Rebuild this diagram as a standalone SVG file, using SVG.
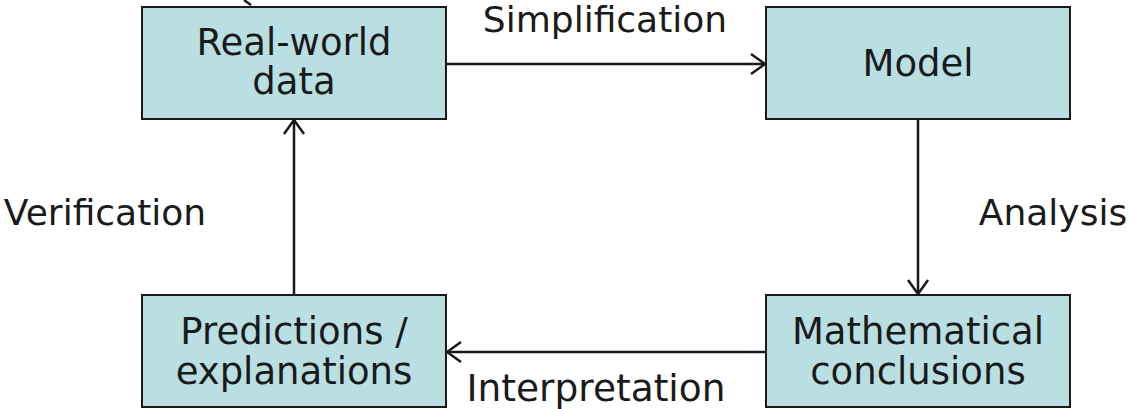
<svg xmlns="http://www.w3.org/2000/svg" width="1136" height="409" viewBox="0 0 1136 409">
<defs>
<style>
.box{fill:#b9dfe3;stroke:#1a1a1a;stroke-width:2}
.t{font-family:"DejaVu Sans",Verdana,sans-serif;font-size:36px;fill:#1a1a1a;text-anchor:middle}
.n{font-size:37px}
.c{stroke:#1a1a1a;stroke-width:2.5;fill:none}
</style>
<marker id="ah" viewBox="0 0 16 24" refX="15" refY="12" markerWidth="16" markerHeight="24" markerUnits="userSpaceOnUse" orient="auto">
<path d="M1,2 L15,12 L1,22" fill="none" stroke="#1a1a1a" stroke-width="2.5"/>
</marker>
</defs>
<rect width="1136" height="409" fill="#ffffff"/>
<g id="connectors">
<line class="c" x1="244" y1="0" x2="251" y2="5"/>
<line class="c" x1="446" y1="64" x2="765" y2="64" marker-end="url(#ah)"/>
<line class="c" x1="918" y1="119" x2="918" y2="294" marker-end="url(#ah)"/>
<line class="c" x1="766" y1="352" x2="447" y2="352" marker-end="url(#ah)"/>
<line class="c" x1="294" y1="295" x2="294" y2="120" marker-end="url(#ah)"/>
<text class="t" x="605" y="32">Simplification</text>
<text class="t" x="1053" y="225">Analysis</text>
<text class="t" x="596" y="401" style="font-size:37.5px">Interpretation</text>
<text class="t" x="105" y="225">Verification</text>
</g>
<g id="real-world">
<rect class="box" x="142" y="7" width="304" height="112"/>
<text class="t n" x="294" y="55">Real-world</text>
<text class="t n" x="294" y="94">data</text>
</g>
<g id="model">
<rect class="box" x="766" y="7" width="304" height="112"/>
<text class="t n" x="918" y="76">Model</text>
</g>
<g id="predictions">
<rect class="box" x="142" y="295" width="304" height="112"/>
<text class="t n" x="294" y="344">Predictions /</text>
<text class="t n" x="294" y="384">explanations</text>
</g>
<g id="conclusions">
<rect class="box" x="766" y="295" width="304" height="112"/>
<text class="t n" x="918" y="344">Mathematical</text>
<text class="t n" x="918" y="384">conclusions</text>
</g>
</svg>
